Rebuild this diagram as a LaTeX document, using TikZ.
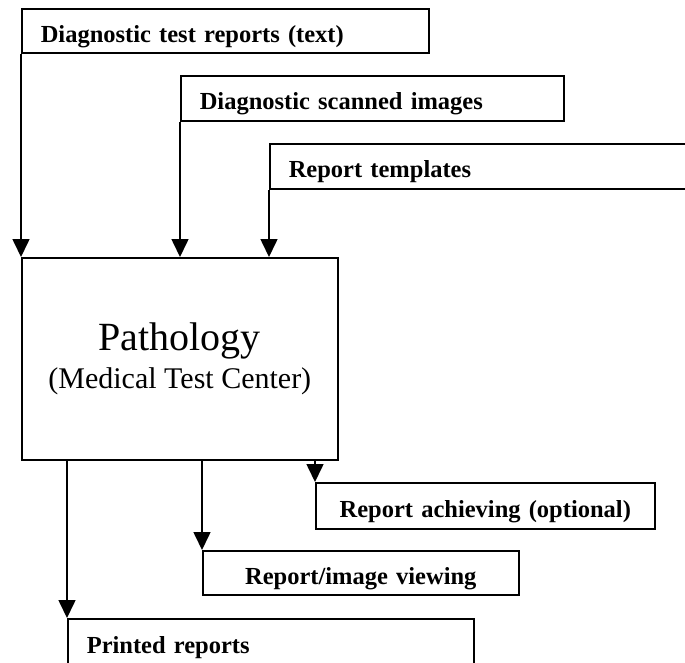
\documentclass[tikz,border=0pt]{standalone}
\usepackage{fontspec}
\setmainfont{Liberation Serif}
\usetikzlibrary{arrows.meta, calc}

\begin{document}
\begin{tikzpicture}[
    x=1pt, y=-1pt, % Work in picture pixels, y pointing down
    >={Triangle[length=18pt, width=17pt]}, % Large filled arrow heads
    flow/.style={->, line width=1.6pt, black}, % Style for the data flow arrows
    databox/.style={draw, line width=1.6pt, fill=white, anchor=north west,
        inner xsep=19pt, inner ysep=0pt, text height=23pt, text depth=0pt,
        font=\bfseries\fontsize{24.5pt}{28pt}\selectfont}, % Style for input/output boxes
    centrebox/.style={draw, line width=1.6pt, fill=white, anchor=north west,
        align=center, font=\fontsize{30pt}{38pt}\selectfont} % Style for the test center box
  ]

  % --- Frame ---
  \clip (0,0) rectangle (685,662); % Picture size

  % --- Inputs ---
  \node[databox, align=left, text width=369pt, minimum height=44pt] (reports) at (21,8) {Diagnostic test reports (text)};
  \node[databox, align=left, text width=345pt, minimum height=45pt] (scans) at (180,75) {Diagnostic scanned images};
  \node[databox, align=left, text width=393pt, minimum height=45pt] (templates) at (269,143) {Report templates};

  % --- Test center ---
  \node[centrebox, minimum width=316pt, minimum height=202pt] (lab) at (21,257)
    {{\fontsize{40pt}{38pt}\selectfont Pathology}\\(Medical Test Center)};

  % --- Outputs ---
  \node[databox, align=center, text width=301pt, minimum height=46pt] (archive) at (315,482) {Report achieving (optional)};
  \node[databox, align=center, text width=278pt, minimum height=44pt] (viewing) at (202,550) {Report/image viewing};
  \node[databox, align=left, text width=368pt, minimum height=46pt] (printed) at (67,618) {Printed reports};

  % --- Flows into the center ---
  \draw[flow] (reports.south west) -- (lab.north west);
  \draw[flow] (scans.south west) -- (scans.south west |- lab.north);
  \draw[flow] (templates.south west) -- (templates.south west |- lab.north);

  % --- Flows out of the center ---
  \draw[flow] (printed.north west |- lab.south) -- (printed.north west);
  \draw[flow] (viewing.north west |- lab.south) -- (viewing.north west);
  \draw[flow] (archive.north west |- lab.south) -- (archive.north west);

\end{tikzpicture}
\end{document}
